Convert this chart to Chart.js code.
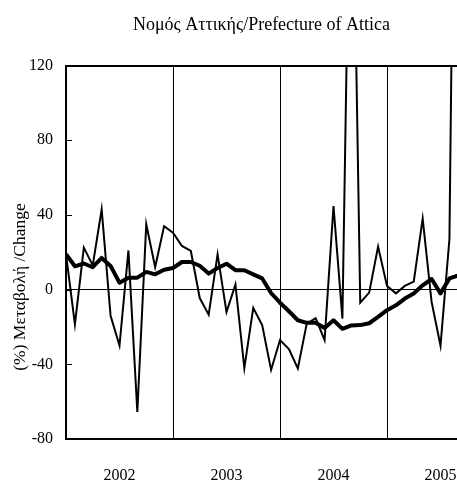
<!DOCTYPE html>
<html><head><meta charset="utf-8">
<script src="https://cdn.jsdelivr.net/npm/chart.js@4"></script>
<style>html,body{margin:0;padding:0;background:#fff;overflow:hidden}#wrap{width:457px;height:482px}</style>
</head><body><div id="wrap"><canvas id="c" width="457" height="482"></canvas></div>
<script>
const chartTitle = 'Νομός Αττικής/Prefecture of Attica';
const yAxisLabel = '(%) Μεταβολή /Change';
const months = [
  '2002-01','2002-02','2002-03','2002-04','2002-05','2002-06','2002-07','2002-08','2002-09','2002-10','2002-11','2002-12',
  '2003-01','2003-02','2003-03','2003-04','2003-05','2003-06','2003-07','2003-08','2003-09','2003-10','2003-11','2003-12',
  '2004-01','2004-02','2004-03','2004-04','2004-05','2004-06','2004-07','2004-08','2004-09','2004-10','2004-11','2004-12',
  '2005-01','2005-02','2005-03','2005-04','2005-05','2005-06','2005-07','2005-08','2005-09'
];
const yearLabels = ['2002','2003','2004','2005'];
const yearLabelPos = [6, 18, 30, 42];
const yearBoundaries = [12, 24, 36];
const yTicks = [-80, -40, 0, 40, 80, 120];
const monthlyChange = [
  19, -18.6, 22.5, 13, 43, -14, -30, 21, -65.5, 35, 12, 34,
  30.5, 23.4, 20.7, -4.5, -13.4, 18.9, -12, 2.7, -42, -9.8, -19, -43,
  -27, -31.8, -42.2, -18.2, -15.3, -27, 44.7, -15.5, 280, -7, -1.6, 23.1,
  2, -2, 2, 4.3, 38, -6.6, -30, 27, 450
];
const movingAverage = [
  19, 12.5, 14, 12, 17, 12.7, 3.7, 6.4, 6.4, 9.5, 8.2, 10.7,
  11.6, 14.8, 14.8, 12.8, 8.6, 11.6, 13.9, 10.4, 10.4, 8.2, 6, -1.8,
  -7, -11.6, -16.4, -17.8, -17.7, -20.5, -16.4, -21, -19.2, -19, -18, -14.6,
  -11, -8.4, -4.8, -2.1, 2.3, 5.7, -2, 6, 7.6
];
const xVisibleMax = 43.85;

const toPoints = arr => arr.map((v, i) => ({x: i, y: v, month: months[i]}));
const xTickValues = [0, ...yearLabelPos, ...yearBoundaries, xVisibleMax].sort((a, b) => a - b);
const serif = 'Liberation Serif';

const decor = {
  id: 'decor',
  afterDraw(chart) {
    const {ctx, chartArea, scales: {y}} = chart;
    ctx.save();
    ctx.strokeStyle = '#000';
    ctx.lineWidth = 1;
    yTicks.forEach(v => {
      const py = Math.round(y.getPixelForValue(v)) + 0.5;
      ctx.beginPath();
      ctx.moveTo(chartArea.left, py);
      ctx.lineTo(chartArea.left + 6, py);
      ctx.stroke();
    });
    ctx.translate(20, 287);
    ctx.rotate(-Math.PI / 2);
    ctx.font = '17.5px "' + serif + '"';
    ctx.fillStyle = '#000';
    ctx.textAlign = 'center';
    ctx.textBaseline = 'middle';
    ctx.fillText(yAxisLabel, 0, 0);
    ctx.restore();
  }
};

new Chart(document.getElementById('c'), {
  type: 'line',
  data: {
    datasets: [
      {label: 'Moving average', data: toPoints(movingAverage), borderColor: '#000', borderWidth: 4,
       pointRadius: 0, tension: 0, clip: 0, borderJoinStyle: 'round', borderCapStyle: 'butt'},
      {label: 'Monthly change', data: toPoints(monthlyChange), borderColor: '#000', borderWidth: 2,
       pointRadius: 0, tension: 0, clip: 0}
    ]
  },
  options: {
    responsive: false, animation: false, devicePixelRatio: 1,
    layout: {padding: 0, autoPadding: false},
    plugins: {
      legend: {display: false}, tooltip: {enabled: false},
      title: {display: true, text: chartTitle, fullSize: false, color: '#000',
              font: {family: serif, size: 18, weight: 'normal'}, padding: {top: 14, bottom: 30}}
    },
    scales: {
      x: {
        type: 'linear', min: 0, max: xVisibleMax,
        afterBuildTicks(s) { s.ticks = xTickValues.map(v => ({value: v})); },
        afterFit(s) { s.height = 43; s.paddingRight = 0; s.paddingLeft = 0; },
        grid: {
          drawTicks: false,
          color: c => yearBoundaries.includes(c.tick && c.tick.value) ? '#000' : 'rgba(0,0,0,0)',
          lineWidth: 1
        },
        border: {display: true, color: '#000', width: 2},
        ticks: {
          autoSkip: false, maxRotation: 0, padding: 27, color: '#000',
          font: {family: serif, size: 16},
          callback(value) { const k = yearLabelPos.indexOf(value); return k >= 0 ? yearLabels[k] : ''; }
        }
      },
      y: {
        min: -80, max: 120,
        afterBuildTicks(s) { s.ticks = yTicks.map(v => ({value: v})); },
        afterFit(s) { s.width = 66; },
        grid: {
          drawTicks: false,
          color: c => (c.tick && (c.tick.value === 0 || c.tick.value === 120)) ? '#000' : 'rgba(0,0,0,0)',
          lineWidth: c => (c.tick && c.tick.value === 120) ? 2 : 1
        },
        border: {display: true, color: '#000', width: 2},
        ticks: {padding: 13, color: '#000', font: {family: serif, size: 16}}
      }
    }
  },
  plugins: [decor]
});
</script>
</body></html>
